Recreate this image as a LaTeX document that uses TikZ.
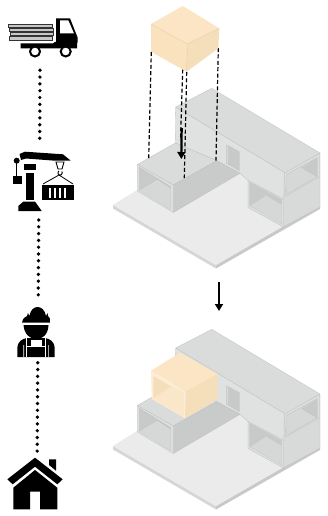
\documentclass[tikz,border=0pt]{standalone}
\usetikzlibrary{arrows.meta}
\definecolor{plateTop}{HTML}{EBEBEB}
\definecolor{plateL}{HTML}{D6D6D6}
\definecolor{plateR}{HTML}{C9C9C9}
\definecolor{roofGrey}{HTML}{DADBDB}
\definecolor{wallGrey}{HTML}{E0E1E1}
\definecolor{sideGrey}{HTML}{C9CACA}
\definecolor{endGrey}{HTML}{D8D9D9}
\definecolor{frameGrey}{HTML}{DDDEDE}
\definecolor{holeGrey}{HTML}{C8C9C9}
\definecolor{holeFloor}{HTML}{D6D7D7}
\definecolor{edgeGrey}{HTML}{BFC0C0}
\definecolor{cubeTop}{HTML}{FBE5C4}
\definecolor{cubeL}{HTML}{FAE2BE}
\definecolor{cubeR}{HTML}{F5DEBA}
\definecolor{cubeHole}{HTML}{F5DFBB}
\definecolor{cubeFloor}{HTML}{FAE6C8}
\definecolor{cubeFrame}{HTML}{FCEDD4}
\definecolor{cubeEdge}{HTML}{DCCDAE}
\tikzset{
  thinedge/.style={draw=edgeGrey,line width=0.3pt,line join=round},
  dotline/.style={line width=3.7pt,line cap=round,dash pattern=on 0pt off 6.8pt,black},
  dropline/.style={line width=1.2pt,dash pattern=on 4pt off 2.4pt,black},
  downarrow/.style={line width=2.2pt,black,-{Triangle[length=7pt,width=8pt]}},
}
\newcommand{\buildingbase}{%
  % plate
  \fill[plateL] (113,205) -- (216,265) -- (216,268.5) -- (113,208.5) -- cycle;
  \fill[plateR] (216,265) -- (320,205) -- (320,209) -- (216,268.5) -- cycle;
  \fill[plateTop] (113,205) -- (216,265) -- (320,205) -- (212,143) -- cycle;
  % long upper volume wall
  \filldraw[fill=wallGrey,thinedge] (175.7,107) -- (285,172.7) -- (285,200) -- (248,180.5) -- (240,173.3) -- (216.7,160.7) -- (175.3,143) -- cycle;
  % right end face
  \filldraw[fill=endGrey,thinedge] (284.3,172.3) -- (320,153) -- (320,207) -- (283.3,227) -- cycle;
  % lower right opening
  \filldraw[fill=frameGrey,thinedge] (248,180.5) -- (283.5,199.5) -- (283.5,227) -- (248,207.5) -- cycle;
  \filldraw[fill=holeGrey,thinedge] (249.5,182.5) -- (281.7,200) -- (281.7,224) -- (249.5,205.5) -- cycle;
  \fill[holeFloor] (250,205.5) -- (266,195) -- (281.7,204.3) -- (281.7,224) -- cycle;
  \draw[thinedge] (250,205.5) -- (266,195) -- (281.7,204.3);
  % upper right opening
  \filldraw[fill=frameGrey,thinedge] (284.3,172.3) -- (319.5,153.5) -- (319.5,176.7) -- (285.7,196) -- cycle;
  \filldraw[fill=holeFloor,thinedge] (286.7,174.3) -- (317.3,157.7) -- (317.3,176.7) -- (286.7,194.3) -- cycle;
  \fill[holeGrey] (301.7,167.5) -- (317.3,157.7) -- (317.3,176.7) -- cycle;
  \draw[thinedge] (301.7,167.5) -- (317.3,176.7);
  % roof
  \filldraw[fill=roofGrey,thinedge] (175.7,107) -- (211.7,88.3) -- (320,153) -- (285,172.7) -- cycle;
  % door
  \filldraw[fill=holeGrey,thinedge] (226.7,145) -- (239.3,151.7) -- (239.3,170.7) -- (226.7,163.3) -- cycle;
  \filldraw[fill=frameGrey,thinedge] (226.7,145) -- (228,145.7) -- (228,164) -- (226.7,163.3) -- cycle;
  % left box
  \filldraw[fill=roofGrey,thinedge] (137.3,164.5) -- (175.3,143) -- (216.7,160.7) -- (173.3,185) -- cycle;
  \filldraw[fill=sideGrey,thinedge] (173.3,185) -- (216.7,160.7) -- (240,173.3) -- (173.3,212.5) -- cycle;
  \filldraw[fill=frameGrey,thinedge] (137.3,164.5) -- (173.3,185) -- (173.3,212.5) -- (137.3,191) -- cycle;
  \filldraw[fill=holeGrey,thinedge] (139.3,167.3) -- (170.7,186.7) -- (170.7,209.3) -- (139.3,190) -- cycle;
  \fill[holeFloor] (139.3,190) -- (157.3,179.3) -- (170.7,188.3) -- (170.7,209.3) -- cycle;
  \draw[thinedge] (139.3,190) -- (157.3,179.3) -- (170.7,188.3);
}
\begin{document}
\begin{tikzpicture}[x=1pt,y=-1pt]
\useasboundingbox (0,0) rectangle (327,516);
\fill[white] (0,0) rectangle (327,516);

% ---- named anchors for connectors
\coordinate (truckfoot) at (40,70.3);
\coordinate (cranetop) at (39.7,145);
\coordinate (cranefoot) at (38.7,220);
\coordinate (workertop) at (38.3,295);
\coordinate (workerfoot) at (37.7,362.7);
\coordinate (housetop) at (37.2,452);
\coordinate (archA) at (219,282);
\coordinate (archB) at (219,311);
\coordinate (dropA) at (181.7,128);
\coordinate (dropB) at (181.3,159);

\draw[dotline] (truckfoot) -- (cranetop);
\draw[dotline] (cranefoot) -- (workertop);
\draw[dotline] (workerfoot) -- (housetop);

% ---- truck
\foreach \ya/\yb/\xa/\xb in {24/27.3/8.5/52.5, 28/31.3/9.5/53, 32/35.5/10/53, 36/40/9/52}{
  \filldraw[fill=black!22,draw=black!80,line width=0.6pt] (\xa,\ya) rectangle (\xb,\yb);
}
\fill[black] (56,18.3) -- (70,18.3) -- (77.7,37.7) -- (77.7,42.7) -- (56,42.7) -- cycle;
\fill[white] (60,20.3) -- (68.3,20.3) -- (74,33.5) -- (60,33.5) -- cycle;
\fill[black] (20.7,43.3) -- (53,43.3) -- (55,42) -- (77,42) -- (77,48.5) -- (20.7,48.5) -- cycle;
\filldraw[fill=white,draw=black,line width=2pt] (35,51.5) circle (5pt);
\filldraw[fill=white,draw=black,line width=2pt] (65.7,51.5) circle (5pt);

% ---- crane
\fill[black] (19.5,154) -- (25,151.7) -- (63,154.3) -- (70.7,160.7) -- (55,160.7) -- (26,158.5) -- (21,160) -- cycle;
\fill[black] (16.7,160.7) circle (3pt);
\fill[black] (15.7,160) rectangle (17,178);
\fill[black] (12.7,175.7) rectangle (21.7,184);
\fill[black] (24,164) rectangle (35.5,169.5);
\fill[black] (26,172.5) rectangle (34,200);
\fill[black] (23.5,201.5) -- (35,201.5) -- (41.7,211) -- (18.3,211) -- (18.3,206) -- cycle;
\draw[black,line width=0.9pt] (56,162) -- (64,162) -- (62,169) -- (58,169) -- cycle;
\draw[black,line width=0.9pt] (59,171) arc (120:400:2.2pt);
\draw[black,line width=0.8pt] (59,175) -- (43,184) (59,175) -- (73,184);
\fill[black] (41.7,184.5) rectangle (73.5,200);
\foreach \sx in {49,54,59,64}{\fill[white] (\sx,187.5) rectangle (\sx+2.3,197.5);}

% ---- worker
\fill[black] (22,322.5) .. controls (23,318) and (25,317) .. (27,316) -- (28,313) -- (29.5,316) .. controls (31,304) and (44,304) .. (46,316) -- (47.5,313) -- (48,316) .. controls (50,317) and (50,319) .. (50,322.5) -- cycle;
\fill[black] (23.5,325) -- (48.5,325) .. controls (48,344) and (25,344) .. (23.5,325) -- cycle;
\fill[black] (17.3,357) -- (17.3,349) .. controls (17.5,341) and (22,339) .. (27,338) -- (45,338) .. controls (50,339) and (54.5,341) .. (54.7,349) -- (54.7,357) -- cycle;
\draw[white,line width=0.7pt] (26.5,338) -- (26.5,357) (45.5,338) -- (45.5,357) (26.5,346.5) -- (45.5,346.5);
\fill[white] (30.5,339.5) rectangle (41.5,346);
\fill[white] (23.3,345) rectangle (24,357) (48,345) rectangle (48.7,357);

% ---- house
\fill[black] (35,457.7) -- (7.3,479.3) -- (12.7,484.3) -- (35,466.7) -- (57.3,484.3) -- (62.7,479.3) -- cycle;
\fill[black] (49,459.3) -- (49,465) -- (56,470.7) -- (56,459.3) -- cycle;
\fill[black] (13.3,487.7) -- (35,470) -- (57.3,487.7) -- (57.3,509.3) -- (40,509.3) -- (40,491.7) -- (30,491.7) -- (30,509.3) -- (13.3,509.3) -- cycle;

% ---- upper building with module floating above
\buildingbase
\draw[dropline] (151.3,52) -- (148.7,158);
\draw[dropline] (182.7,69.5) -- (180.5,140);
\draw[dropline] (186.7,72) -- (184.3,178);
\draw[dropline] (218.3,48) -- (216,160.7);
\draw[downarrow] (dropA) -- (dropB);
% cube
\fill[cubeL] (151,24) -- (187.3,44) -- (186.7,71.7) -- (151,51.7) -- cycle;
\fill[cubeR] (187.3,44) -- (219.3,28.3) -- (218.3,48.3) -- (186.7,71.7) -- cycle;
\fill[cubeTop] (182.7,6) -- (219.3,28.3) -- (187.3,44) -- (151,24) -- cycle;
\draw[cubeEdge,line width=0.35pt] (151,24) -- (187.3,44) -- (219.3,28.3) (187.3,44) -- (186.7,71.7);

\draw[downarrow] (archA) -- (archB);

% ---- lower building with module placed
\begin{scope}[yshift=-241pt]
\buildingbase
\end{scope}
\fill[cubeTop] (151,370.7) -- (180,352.7) -- (217.7,374) -- (185.7,391.7) -- cycle;
\fill[cubeR] (185.7,391.7) -- (217.7,374) -- (217.7,399.3) -- (185,418.3) -- cycle;
\fill[cubeFrame] (151,370.7) -- (185.7,391.7) -- (185,418.3) -- (151.7,398.8) -- cycle;
\fill[cubeHole] (153.3,376) -- (183.3,393.3) -- (183.3,416) -- (153.3,398.3) -- cycle;
\fill[cubeFloor] (153.3,398.3) -- (171.7,386) -- (183.3,393.3) -- (183.3,416) -- cycle;
\end{tikzpicture}
\end{document}
